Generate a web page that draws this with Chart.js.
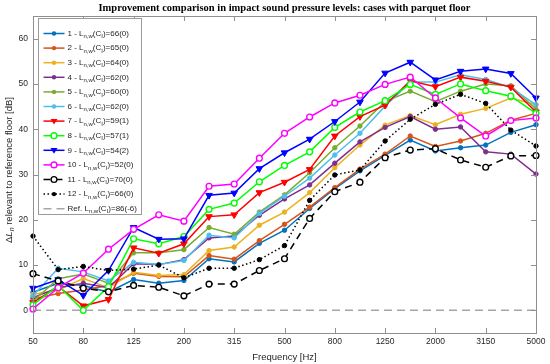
<!DOCTYPE html>
<html><head><meta charset="utf-8">
<script src="https://cdn.jsdelivr.net/npm/chart.js@4/dist/chart.umd.min.js"></script>
<style>html,body{margin:0;padding:0;background:#fff;overflow:hidden}</style>
</head><body>
<canvas id="c" width="550" height="364" style="width:550px;height:364px;display:block"></canvas>
<script>
// ---- data ----
const frequencies = ['50','63','80','100','125','160','200','250','315','400','500','630','800','1000','1250','1600','2000','2500','3150','4000','5000'];
const yTicks = [0,10,20,30,40,50,60];
const xTickIdx = [0,2,4,6,8,10,12,14,16,18,20];
const s1  = [4.0,6.0,5.5,4.0,6.8,6.0,6.6,11.4,10.7,14.8,17.7,22.5,26.9,30.8,34.2,37.6,35.2,35.9,36.5,39.3,41.0];
const s2  = [2.5,3.7,4.5,5.5,8.2,7.5,7.4,12.1,11.3,15.4,19.0,22.8,27.1,31.2,34.5,38.5,36.2,37.4,39.1,42.0,43.5];
const s3  = [3.5,4.5,7.0,5.0,8.4,7.7,7.9,13.2,14.0,18.8,21.7,26.0,31.5,36.5,40.9,43.0,41.0,43.3,44.6,46.9,45.4];
const s4  = [2.8,5.0,6.0,5.0,10.3,10.1,11.2,16.0,16.4,21.0,24.6,27.7,32.5,37.2,40.4,42.8,40.0,40.5,35.0,34.5,30.1];
const s5  = [2.0,7.0,8.0,6.0,12.7,12.7,13.4,18.3,16.8,21.7,25.5,30.4,35.9,40.7,46.1,48.4,46.1,48.4,50.0,49.6,44.4];
const s6  = [3.2,9.3,8.5,6.5,10.6,10.1,11.0,16.6,16.0,21.4,25.2,29.2,34.3,39.1,45.1,50.4,50.4,52.0,51.0,49.2,45.4];
const s7  = [1.7,5.3,1.0,2.4,13.8,12.6,14.7,20.7,21.1,26.0,28.3,31.1,38.5,42.8,45.3,50.7,49.4,51.5,50.6,49.3,43.8];
const s8  = [1.2,5.5,0.0,5.2,15.8,14.7,16.3,22.3,23.7,28.4,32.0,35.0,40.4,43.8,46.3,49.9,47.7,50.0,48.5,47.3,43.5];
const s9  = [4.9,6.8,3.3,8.8,18.3,15.7,15.8,25.4,25.9,31.3,34.8,37.8,41.7,46.0,52.4,54.8,50.9,52.8,53.3,52.3,46.9];
const s10 = [0.3,5.0,8.2,13.5,17.9,21.1,19.7,27.4,27.9,33.6,39.1,42.7,45.8,47.5,49.9,51.5,46.9,42.5,38.5,41.9,42.5];
const s11 = [8.1,6.5,4.9,4.1,5.5,5.1,3.2,5.8,5.8,8.8,11.4,20.3,26.2,28.3,33.7,35.4,35.7,33.2,31.6,34.1,34.2];
const s12 = [16.4,9.0,9.7,8.8,9.1,10.0,7.2,9.3,9.3,11.2,14.3,24.3,29.9,31.0,37.4,42.2,45.5,47.7,45.7,39.8,36.3];
const sRef = [0,0,0,0,0,0,0,0,0,0,0,0,0,0,0,0,0,0,0,0,0];
const legendIds = ['1 - ','2 - ','3 - ','4 - ','5 - ','6 - ','7 - ','8 - ','9 - ','10 - ','11 - ','12 - ','Ref. '];
const legendVals = ['66(0)','65(0)','64(0)','62(0)','60(0)','62(0)','59(1)','57(1)','54(2)','52(0)','70(0)','66(0)','86(-6)'];
const titleText = 'Improvement comparison in impact sound pressure levels: cases with parquet floor';
const xTitle = 'Frequency [Hz]';
const yTitleMain = ' relevant to reference floor [dB]';

// ---- styles ----
const seriesData = [s1,s2,s3,s4,s5,s6,s7,s8,s9,s10,s11,s12,sRef];
const styles = [
  {c:'#0072BD', m:'dot'}, {c:'#D95319', m:'dot'}, {c:'#EDB120', m:'dot'},
  {c:'#7E2F8E', m:'dot'}, {c:'#77AC30', m:'dot'}, {c:'#4DBEEE', m:'dot'},
  {c:'#FF0000', m:'tri'}, {c:'#00FF00', m:'ocirc'}, {c:'#0000FF', m:'tri'},
  {c:'#FF00FF', m:'ocirc'}, {c:'#000000', m:'ocirc', dash:[7,5]},
  {c:'#000000', m:'dot', dash:[1.5,2.5]}, {c:'#A6A6A6', m:'none', dash:[8,5]}
];
function ptOpts(st){
  if(st.m==='dot') return {pointStyle:'circle', pointRadius:2.2, pointBackgroundColor:st.c, pointBorderColor:st.c, pointBorderWidth:1};
  if(st.m==='tri') return {pointStyle:'triangle', pointRotation:180, pointRadius:3.8, pointBackgroundColor:st.c, pointBorderColor:st.c, pointBorderWidth:1};
  if(st.m==='ocirc') return {pointStyle:'circle', pointRadius:2.9, pointBackgroundColor:'#ffffff', pointBorderColor:st.c, pointBorderWidth:1.4};
  return {pointRadius:0};
}
const datasets = seriesData.map((d,i)=>Object.assign({
  label: legendIds[i]+legendVals[i], data: d, borderColor: styles[i].c, borderWidth: 1.5,
  borderDash: styles[i].dash || [], fill:false, tension:0, order: 20-i
}, ptOpts(styles[i])));

const FONT = 'Liberation Sans, Arial, Helvetica, sans-serif';
const axisGray = '#8f8f8f';

function drawMarker(ctx, st, x, y){
  ctx.save(); ctx.setLineDash([]);
  if(st.m==='dot'){ ctx.fillStyle=st.c; ctx.beginPath(); ctx.arc(x,y,2.2,0,Math.PI*2); ctx.fill(); }
  else if(st.m==='ocirc'){ ctx.fillStyle='#fff'; ctx.strokeStyle=st.c; ctx.lineWidth=1.4; ctx.beginPath(); ctx.arc(x,y,2.9,0,Math.PI*2); ctx.fill(); ctx.stroke(); }
  else if(st.m==='tri'){ ctx.fillStyle=st.c; ctx.beginPath(); ctx.moveTo(x-3.5,y-2.2); ctx.lineTo(x+3.5,y-2.2); ctx.lineTo(x,y+3.5); ctx.closePath(); ctx.fill(); }
  ctx.restore();
}

const framePlugin = {
  id:'frame',
  afterDraw(chart){
    const ctx = chart.ctx, a = chart.chartArea, xs = chart.scales.x, ys = chart.scales.y;
    ctx.save();
    ctx.strokeStyle = axisGray; ctx.lineWidth = 1;
    ctx.strokeRect(Math.round(a.left)+0.5, Math.round(a.top)+0.5, Math.round(a.right-a.left), Math.round(a.bottom-a.top));
    const tl = 5;
    ctx.beginPath();
    xTickIdx.forEach(i=>{ const px = Math.round(xs.getPixelForValue(i))+0.5;
      ctx.moveTo(px,a.bottom); ctx.lineTo(px,a.bottom-tl); ctx.moveTo(px,a.top); ctx.lineTo(px,a.top+tl); });
    yTicks.forEach(v=>{ const py = Math.round(ys.getPixelForValue(v))+0.5;
      ctx.moveTo(a.left,py); ctx.lineTo(a.left+tl,py); ctx.moveTo(a.right,py); ctx.lineTo(a.right-tl,py); });
    ctx.stroke();

    // title
    ctx.fillStyle = '#000'; ctx.textAlign='center'; ctx.textBaseline='middle';
    ctx.font = 'bold 10.5px "Liberation Serif", "DejaVu Serif", serif';
    ctx.fillText(titleText, (a.left+a.right)/2, 8);
    // x title
    ctx.fillStyle = '#262626'; ctx.font = '9.5px '+FONT;
    ctx.fillText(xTitle, (a.left+a.right)/2, 357);
    // y title
    ctx.save();
    ctx.translate(9, 170); ctx.rotate(-Math.PI/2);
    ctx.textAlign='left';
    const f1 = '9.5px '+FONT, fi = 'italic 9.5px '+FONT, fs = 'italic 7px '+FONT;
    ctx.font=f1; const wD = ctx.measureText('\u0394').width;
    ctx.font=fi; const wL = ctx.measureText('L').width;
    ctx.font=fs; const wn = ctx.measureText('n').width;
    ctx.font=f1; const wR = ctx.measureText(yTitleMain).width;
    let x0 = -(wD+wL+wn+wR)/2;
    ctx.font=f1; ctx.fillText('\u0394', x0, 0); x0+=wD;
    ctx.font=fi; ctx.fillText('L', x0, 0); x0+=wL;
    ctx.font=fs; ctx.fillText('n', x0, 3); x0+=wn;
    ctx.font=f1; ctx.fillText(yTitleMain, x0, 0);
    ctx.restore();

    // legend
    const lx = 38.5, ly = 18.5, lw = 103, lh = 196;
    ctx.fillStyle='#fff'; ctx.fillRect(lx,ly,lw,lh);
    ctx.strokeStyle='#9a9a9a'; ctx.lineWidth=1; ctx.strokeRect(lx,ly,lw,lh);
    const fN = '8px '+FONT, fS = '6px '+FONT;
    ctx.textAlign='left'; ctx.textBaseline='middle';
    legendIds.forEach((id,k)=>{
      const st = styles[k]; const yy = 33.5 + k*14.6;
      ctx.save(); ctx.strokeStyle=st.c; ctx.lineWidth=1.5; ctx.setLineDash(st.dash||[]);
      ctx.beginPath(); ctx.moveTo(lx+5, yy); ctx.lineTo(lx+26, yy); ctx.stroke(); ctx.restore();
      drawMarker(ctx, st, lx+15.5, yy);
      let tx = lx+29; ctx.fillStyle='#262626';
      const parts = [[id+'L',0],['n,w',1],['(C',0],['I',1],[')='+legendVals[k],0]];
      parts.forEach(p=>{ ctx.font = p[1]?fS:fN; ctx.fillText(p[0], tx, yy + (p[1]?3:0)); tx += ctx.measureText(p[0]).width; });
    });
    ctx.restore();
  }
};

new Chart(document.getElementById('c'), {
  type:'line',
  data:{ labels: frequencies, datasets },
  options:{
    responsive:false, animation:false, devicePixelRatio:1,
    layout:{ padding:{ left:0, right:14, top:16, bottom:0 } },
    plugins:{ legend:{display:false}, title:{display:false}, tooltip:{enabled:false} },
    scales:{
      x:{ type:'category', offset:false,
        grid:{display:false, drawTicks:false, tickLength:0}, border:{display:false},
        afterBuildTicks(s){ s.ticks = xTickIdx.map(v=>({value:v})); },
        afterFit(s){ s.height = 31; },
        ticks:{ autoSkip:false, maxRotation:0, minRotation:0, padding:4, color:'#262626', font:{family:FONT, size:8.5},
          callback(v){ return this.getLabelForValue(v); } }
      },
      y:{ type:'linear', min:-5, max:65,
        grid:{display:false, drawTicks:false, tickLength:0}, border:{display:false},
        afterBuildTicks(s){ s.ticks = yTicks.map(v=>({value:v})); },
        afterFit(s){ s.width = 33; },
        ticks:{ padding:5, color:'#262626', font:{family:FONT, size:8.5} }
      }
    }
  },
  plugins:[framePlugin]
});
</script>
</body></html>
